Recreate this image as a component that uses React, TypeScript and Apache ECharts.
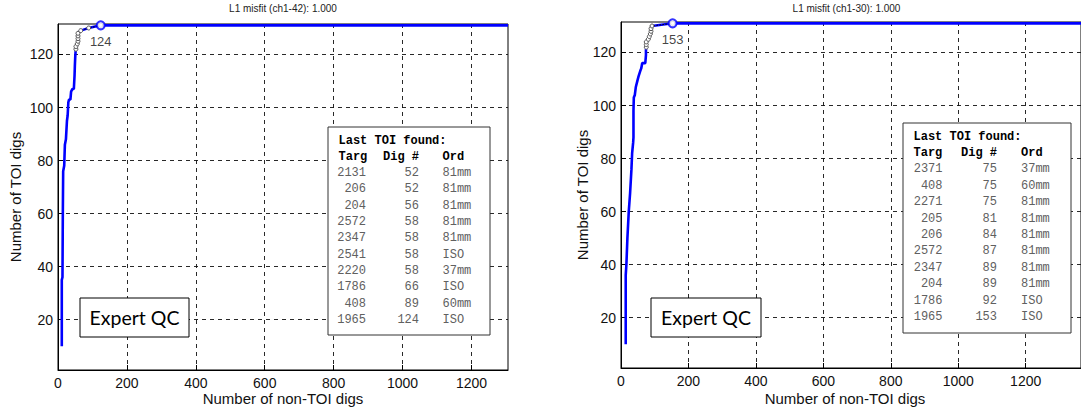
import React, { useEffect, useRef } from "react";
import * as echarts from "echarts";

// ---- Left panel (ch1-42) ----
// Cumulative TOI digs against non-TOI digs, up to the 121st TOI
const leftHeadNonToi = [11, 11, 13, 14, 15, 18, 20, 23, 26, 28, 30, 32, 36, 38, 42, 46, 48, 49, 50, 51];
const leftHeadToi = [10, 35, 36, 60, 76, 78, 86, 88, 95, 97, 102, 103, 103, 106, 107, 107, 112, 116, 119, 121];
// Last ten TOIs found
const leftTarg = [2131, 206, 204, 2572, 2347, 2541, 2220, 1786, 408, 1965];
const leftDig = [52, 52, 56, 58, 58, 58, 58, 66, 89, 124];
const leftOrd = ["81mm", "81mm", "81mm", "81mm", "81mm", "ISO", "37mm", "ISO", "60mm", "ISO"];
const leftTailToi = [122, 123, 124, 125, 126, 127, 128, 129, 130, 131];
const leftTotalNonToi = 1306;
const leftTitle = "L1 misfit (ch1-42): 1.000";

// ---- Right panel (ch1-30) ----
const rightHeadNonToi = [14, 14, 16, 19, 23, 27, 31, 33, 36, 37, 37, 38, 41, 44, 48, 52, 57, 60, 63, 72, 74, 74];
const rightHeadToi = [10, 36, 40, 50, 60, 67, 76, 82, 86, 88, 98, 103, 104, 107, 109, 111, 113, 114, 116, 116, 119, 121];
const rightTarg = [2371, 408, 2271, 205, 206, 2572, 2347, 204, 1786, 1965];
const rightDig = [75, 75, 75, 81, 84, 87, 89, 89, 92, 153];
const rightOrd = ["37mm", "60mm", "81mm", "81mm", "81mm", "81mm", "81mm", "81mm", "ISO", "ISO"];
const rightTailToi = [122, 123, 124, 125, 126, 127, 128, 129, 130, 131];
const rightTotalNonToi = 1364;
const rightTitle = "L1 misfit (ch1-30): 1.000";

// Axis ticks
const xTickValues = [0, 200, 400, 600, 800, 1000, 1200];
const yTickValues = [20, 40, 60, 80, 100, 120];
const yMin = 1;
const yMax = 131.5;

const xAxisTitle = "Number of non-TOI digs";
const yAxisTitle = "Number of TOI digs";
const qcLabel = "Expert QC";
const tableTitle = "Last TOI found:";
const tableHeader = ["Targ", "Dig #", "Ord"];

const SANS = '"Liberation Sans", Arial, Helvetica, sans-serif';
const MONO = '"Liberation Mono", "Courier New", monospace';
const BLUE = "#0000ff";

const zip = (xs: number[], ys: number[]) => xs.map((x, i) => [x, ys[i]]);

function curve(headX: number[], headY: number[], dig: number[], tailY: number[], total: number) {
  const xs = [...headX, ...dig, total];
  const ys = [...headY, ...tailY, tailY[tailY.length - 1]];
  return zip(xs, ys);
}

function makeXAxis(gridIndex: number, max: number) {
  return {
    type: "value",
    gridIndex,
    min: 0,
    max,
    axisLine: { show: true, onZero: false, lineStyle: { color: "#000", width: 1 } },
    axisTick: { show: true, inside: true, length: 5, customValues: xTickValues, lineStyle: { color: "#000" } },
    axisLabel: {
      customValues: xTickValues,
      color: "#111",
      fontSize: 14,
      fontFamily: SANS,
      margin: 6,
      formatter: (v: number) => String(v),
    },
    splitLine: { show: true, lineStyle: { color: "#111", width: 0.9, type: [4, 4] } },
  };
}

function makeYAxis(gridIndex: number) {
  return {
    type: "value",
    gridIndex,
    min: yMin,
    max: yMax,
    axisLine: { show: true, onZero: false, lineStyle: { color: "#000", width: 1 } },
    axisTick: { show: true, inside: true, length: 5, customValues: yTickValues, lineStyle: { color: "#000" } },
    axisLabel: {
      customValues: yTickValues,
      color: "#111",
      fontSize: 14,
      fontFamily: SANS,
      margin: 5,
      formatter: (v: number) => String(v),
    },
    splitLine: { show: true, lineStyle: { color: "#111", width: 0.9, type: [4, 4] } },
  };
}

function panelSeries(idx: number, headX: number[], headY: number[], dig: number[], tailY: number[], total: number) {
  const last = [dig[dig.length - 1], tailY[tailY.length - 1]];
  return [
    {
      type: "line",
      xAxisIndex: idx,
      yAxisIndex: idx,
      data: curve(headX, headY, dig, tailY, total),
      showSymbol: false,
      symbol: "none",
      lineStyle: { color: BLUE, width: 2.6 },
      z: 2,
    },
    {
      type: "line",
      xAxisIndex: idx,
      yAxisIndex: idx,
      data: zip(dig, tailY),
      symbol: "circle",
      symbolSize: 4,
      showSymbol: true,
      lineStyle: { color: "#000", width: 1, type: [1.5, 1.5] },
      itemStyle: { color: "#fff", borderColor: "#555", borderWidth: 1 },
      z: 3,
    },
    {
      type: "scatter",
      xAxisIndex: idx,
      yAxisIndex: idx,
      data: [last],
      symbol: "circle",
      symbolSize: 8,
      itemStyle: { color: "#fff", borderColor: BLUE, borderWidth: 2 },
      label: {
        show: true,
        position: "bottom",
        distance: 5,
        color: "#111",
        fontSize: 13,
        fontFamily: SANS,
        formatter: (p: any) => String(p.value[0]),
      },
      z: 4,
    },
  ];
}

function text(x: number, y: number, s: string, opts: any = {}) {
  return {
    type: "text",
    x,
    y,
    rotation: opts.rotation || 0,
    z: 100,
    style: {
      text: s,
      x: 0,
      y: 0,
      fill: opts.fill || "#111",
      fontSize: opts.fontSize || 12,
      fontFamily: opts.fontFamily || SANS,
      fontWeight: opts.fontWeight || "normal",
      align: opts.align || "left",
      textAlign: opts.align || "left",
      verticalAlign: "middle",
      textVerticalAlign: "middle",
    },
  };
}

function table(
  box: { x: number; y: number; w: number; h: number },
  firstY: number,
  step: number,
  cols: { targEnd: number; digEnd: number; ord: number; left: number },
  targ: number[],
  dig: number[],
  ord: string[]
) {
  const els: any[] = [
    {
      type: "rect",
      shape: { x: box.x, y: box.y, width: box.w, height: box.h },
      style: { fill: "#fff", stroke: "#333", lineWidth: 1 },
      z: 90,
    },
  ];
  const bold = { fontFamily: MONO, fontSize: 12, fontWeight: "bold", fill: "#000" };
  const plain = { fontFamily: MONO, fontSize: 12, fill: "#606060" };
  els.push(text(cols.left, firstY, tableTitle, bold));
  els.push(text(cols.left, firstY + step, tableHeader[0], bold));
  els.push(text(cols.digEnd, firstY + step, tableHeader[1], { ...bold, align: "right" }));
  els.push(text(cols.ord, firstY + step, tableHeader[2], bold));
  targ.forEach((t, i) => {
    const y = firstY + step * (i + 2);
    els.push(text(cols.targEnd, y, String(t), { ...plain, align: "right" }));
    els.push(text(cols.digEnd, y, String(dig[i]), { ...plain, align: "right" }));
    els.push(text(cols.ord, y, ord[i], plain));
  });
  return els;
}

function qcBox(x: number, y: number, w: number, h: number) {
  return [
    {
      type: "rect",
      shape: { x, y, width: w, height: h },
      style: { fill: "#fff", stroke: "#000", lineWidth: 1 },
      z: 90,
    },
    text(x + w / 2, y + h / 2, qcLabel, { fontFamily: "Lato, 'Open Sans', sans-serif", fontSize: 19.5, fill: "#000", align: "center" }),
  ];
}

const option: any = {
  animation: false,
  backgroundColor: "#fff",
  grid: [
    { left: 58, top: 24, width: 450, height: 346, show: true, borderColor: "#000", borderWidth: 1 },
    { left: 621, top: 22, width: 470, height: 346, show: true, borderColor: "#000", borderWidth: 1 },
  ],
  xAxis: [makeXAxis(0, leftTotalNonToi), makeXAxis(1, rightTotalNonToi)],
  yAxis: [makeYAxis(0), makeYAxis(1)],
  series: [
    ...panelSeries(0, leftHeadNonToi, leftHeadToi, leftDig, leftTailToi, leftTotalNonToi),
    ...panelSeries(1, rightHeadNonToi, rightHeadToi, rightDig, rightTailToi, rightTotalNonToi),
  ],
  graphic: [
    text(283, 8.5, leftTitle, { fontSize: 10, fill: "#222", align: "center" }),
    text(846.5, 8.5, rightTitle, { fontSize: 10, fill: "#222", align: "center" }),
    text(283, 398, xAxisTitle, { fontSize: 15, align: "center" }),
    text(845, 398, xAxisTitle, { fontSize: 15, align: "center" }),
    text(15, 197, yAxisTitle, { fontSize: 15, align: "center", rotation: Math.PI / 2 }),
    text(582, 195, yAxisTitle, { fontSize: 15, align: "center", rotation: Math.PI / 2 }),
    ...table(
      { x: 328, y: 127, w: 162, h: 208 },
      140.5,
      16.3,
      { left: 338.5, targEnd: 366, digEnd: 419, ord: 442.5 },
      leftTarg,
      leftDig,
      leftOrd
    ),
    ...table(
      { x: 903, y: 123, w: 168, h: 210 },
      136.5,
      16.4,
      { left: 913.5, targEnd: 942.5, digEnd: 997, ord: 1021 },
      rightTarg,
      rightDig,
      rightOrd
    ),
    ...qcBox(80, 298, 109, 39),
    ...qcBox(651, 298, 110, 39),
  ],
};

export default function App() {
  const ref = useRef<HTMLDivElement>(null);
  useEffect(() => {
    if (!ref.current) return;
    const chart = echarts.init(ref.current, null, { renderer: "svg" });
    chart.setOption(option);
    return () => chart.dispose();
  }, []);
  return (
    <div
      ref={ref}
      style={{ position: "absolute", left: 0, top: 0, width: 1081, height: 410, background: "#fff", overflow: "hidden" }}
    />
  );
}
